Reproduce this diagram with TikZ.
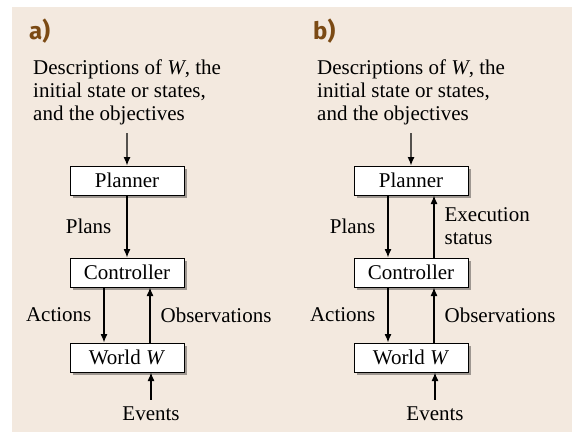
\documentclass[tikz,border=0pt]{standalone}
\usepackage{fontspec}
\setmainfont{Liberation Serif}
\newfontfamily\panelfont{Fira Sans}
\usetikzlibrary{arrows.meta,shadows}
\definecolor{paper}{RGB}{243,233,223}
\definecolor{panelbrown}{RGB}{123,74,20}
\begin{document}
\begin{tikzpicture}[x=1pt, y=-1pt, >={Latex[length=8.5pt,width=7pt]},
    every text/.style={font=\rmfamily\mdseries\fontsize{21}{23}\selectfont, inner sep=0pt},
    box/.style={every text, draw, fill=white, line width=1pt,
      minimum width=114pt, minimum height=29pt,
      drop shadow={shadow xshift=2.5pt, shadow yshift=-2.5pt, fill=black, opacity=0.35}},
    panel label/.style={font=\panelfont\bfseries\fontsize{24}{26}\selectfont,
      text=panelbrown, inner sep=0pt},
    flow/.style={->, line width=1.2pt}]

    \useasboundingbox (0,0) rectangle (572,432);
    \fill [paper] (12,7) rectangle (572,432);

    \foreach \p/\dx in {a/0,b/284} {
      \node [panel label, anchor=base west] (label-\p) at (29+\dx,39) {\p)};
      \node [every text, align=left, anchor=north west] (desc-\p) at (33+\dx,59.5)
        {Descriptions of \textit{W}, the\\initial state or states,\\and the objectives};
      \node [box] (planner-\p) at (127+\dx,180.5) {Planner};
      \node [box] (controller-\p) at (127+\dx,272.5) {Controller};
      \node [box] (world-\p) at (127+\dx,357.5) {World \textit{W}};
      \node [every text] (events-\p) at (151+\dx,414) {Events};

      \draw [flow, shorten <=8pt] (desc-\p.south) -- (planner-\p.north);
      \draw [flow] ([xshift=-23pt]controller-\p.south) -- ([xshift=-23pt]world-\p.north)
        node [every text, midway, left=12pt] {Actions};
      \draw [flow] ([xshift=23pt]world-\p.north) -- ([xshift=23pt]controller-\p.south)
        node [every text, midway, right=10pt] {Observations};
      \draw [flow, shorten <=7pt] (events-\p.north) -- (events-\p.north |- world-\p.south);
    }

    \draw [flow] (planner-a) -- (controller-a)
      node [every text, midway, left=15pt] {Plans};

    \draw [flow] ([xshift=-23pt]planner-b.south) -- ([xshift=-23pt]controller-b.north)
      node [every text, midway, left=12pt] {Plans};
    \draw [flow] ([xshift=23pt]controller-b.north) -- ([xshift=23pt]planner-b.south)
      node [every text, midway, right=10pt, align=left] {Execution\\status};

\end{tikzpicture}
\end{document}
